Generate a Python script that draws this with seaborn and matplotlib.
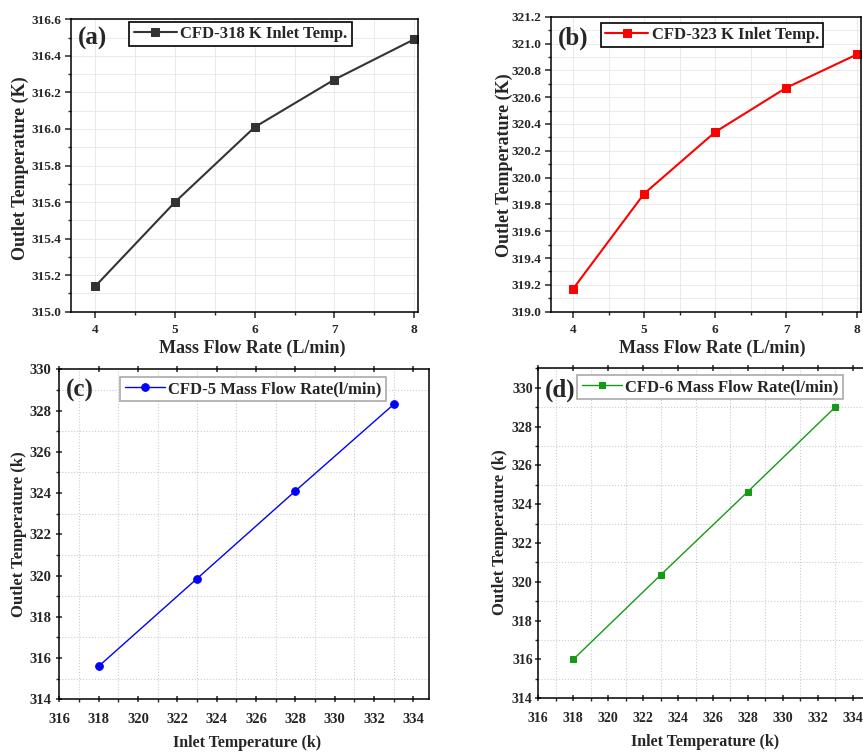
import matplotlib
matplotlib.use('Agg')
import matplotlib.pyplot as plt
from matplotlib.ticker import MultipleLocator
import seaborn as sns

# data
flow_rate = [4, 5, 6, 7, 8]
outlet_318 = [315.14, 315.60, 316.01, 316.27, 316.49]
outlet_323 = [319.17, 319.88, 320.34, 320.67, 320.92]

inlet_temp = [318, 323, 328, 333]
outlet_5lpm = [315.60, 319.85, 324.10, 328.30]
outlet_6lpm = [316.00, 320.35, 324.65, 329.00]

sns.set_style('white')
plt.rcParams['font.family'] = ['Liberation Serif', 'DejaVu Serif']
plt.rcParams['font.weight'] = 'bold'

W, H = 863, 753
fig = plt.figure(figsize=(W / 100, H / 100), dpi=100)


def px_axes(left, top, right, bottom):
    return fig.add_axes([left / W, 1 - bottom / H, (right - left) / W, (bottom - top) / H])


def fig_text(x, y, s, **kw):
    fig.text(x / W, 1 - y / H, s, ha='center', va='center', fontweight='bold', **kw)


def style_axes(ax, xmaj, xmin, ymaj, ymin, dotted, tsize, xpad, ypad):
    ax.xaxis.set_major_locator(MultipleLocator(xmaj))
    ax.xaxis.set_minor_locator(MultipleLocator(xmin))
    ax.yaxis.set_major_locator(MultipleLocator(ymaj))
    ax.yaxis.set_minor_locator(MultipleLocator(ymin))
    for sp in ax.spines.values():
        sp.set_color('black')
        sp.set_linewidth(1.1)
    ax.tick_params(which='major', direction='out', length=4, width=1.1, labelsize=tsize,
                   left=True, bottom=True)
    ax.tick_params(which='minor', direction='out', length=2.5, width=1.0, left=True, bottom=True)
    if dotted:
        ax.tick_params(which='major', top=True, direction='inout')
        ax.tick_params(which='minor', top=False)
        ax.grid(which='minor', color='#cccccc', linestyle=':', linewidth=0.8)
        ax.grid(which='major', visible=False)
    else:
        ax.grid(which='both', color='#e6e6e6', linestyle='-', linewidth=0.6)
    ax.tick_params(axis='x', which='major', pad=xpad)
    ax.tick_params(axis='y', which='major', pad=ypad)
    for lab in ax.get_xticklabels() + ax.get_yticklabels():
        lab.set_fontweight('bold')
    ax.set_xlabel('')
    ax.set_ylabel('')


def add_legend(ax, cx, cy, edge, handlelength):
    leg = ax.legend(loc='center', bbox_to_anchor=(cx / W, 1 - cy / H),
                    bbox_transform=fig.transFigure, fancybox=False, framealpha=1,
                    handlelength=handlelength, handletextpad=0.2, borderpad=0.25,
                    prop={'weight': 'bold', 'size': 12})
    leg.get_frame().set_edgecolor(edge)
    leg.get_frame().set_linewidth(1.2)


# (a)
ax_a = px_axes(70.7, 19.3, 418, 311.7)
sns.lineplot(x=flow_rate, y=outlet_318, ax=ax_a, color='#333333', marker='s',
             markersize=6, markeredgecolor='#333333', linewidth=1.5,
             label='CFD-318 K Inlet Temp.')
ax_a.set_xlim(3.69, 8.05)
ax_a.set_ylim(315.0, 316.6)
style_axes(ax_a, 1, 0.5, 0.2, 0.1, False, 9.5, 5, 3)
add_legend(ax_a, 240.5, 34, 'black', 2.6)

# (b)
ax_b = px_axes(551, 16.7, 860.9, 311.7)
sns.lineplot(x=flow_rate, y=outlet_323, ax=ax_b, color='#ff0000', marker='s',
             markersize=6, markeredgecolor='#ff0000', linewidth=1.5,
             label='CFD-323 K Inlet Temp.')
ax_b.set_xlim(3.69, 8.05)
ax_b.set_ylim(319.0, 321.2)
style_axes(ax_b, 1, 0.5, 0.2, 0.1, False, 9.5, 5, 3)
add_legend(ax_b, 712, 35, 'black', 2.6)

# (c)
ax_c = px_axes(59.3, 369.3, 429.1, 699.3)
sns.lineplot(x=inlet_temp, y=outlet_5lpm, ax=ax_c, color='#0000ff', marker='o',
             markersize=5.5, markeredgecolor='#0000ff', linewidth=1.0,
             label='CFD-5 Mass Flow Rate(l/min)')
ax_c.set_xlim(316, 334.8)
ax_c.set_ylim(314, 330)
style_axes(ax_c, 2, 1, 2, 1, True, 10.5, 8, 4)
add_legend(ax_c, 253, 389, '#aaaaaa', 2.4)

# (d)
ax_d = px_axes(538.3, 368.3, 870.2, 698.3)
sns.lineplot(x=inlet_temp, y=outlet_6lpm, ax=ax_d, color='#159a15', marker='s',
             markersize=5, markeredgecolor='#159a15', linewidth=1.0,
             label='CFD-6 Mass Flow Rate(l/min)')
ax_d.set_xlim(316, 335)
ax_d.set_ylim(314, 331)
style_axes(ax_d, 2, 1, 2, 1, True, 10, 8, 2)
add_legend(ax_d, 710, 387, '#aaaaaa', 2.4)

# axis titles and panel tags
fig_text(252, 348, 'Mass Flow Rate (L/min)', fontsize=13)
fig_text(20, 168, 'Outlet Temperature (K)', fontsize=13, rotation=90)
fig_text(712, 348, 'Mass Flow Rate (L/min)', fontsize=13)
fig_text(504, 165, 'Outlet Temperature (K)', fontsize=13, rotation=90)
fig_text(247, 743, 'Inlet Temperature (k)', fontsize=11.5)
fig_text(19, 534, 'Outlet Temperature (k)', fontsize=12, rotation=90)
fig_text(705, 742, 'Inlet Temperature (k)', fontsize=11.5)
fig_text(500, 532, 'Outlet Temperature (k)', fontsize=12, rotation=90)

fig_text(92, 38, '(a)', fontsize=18)
fig_text(573, 38, '(b)', fontsize=18)
fig_text(80, 390, '(c)', fontsize=18)
fig_text(560, 390, '(d)', fontsize=18)

fig.savefig('out.png', dpi=100)
